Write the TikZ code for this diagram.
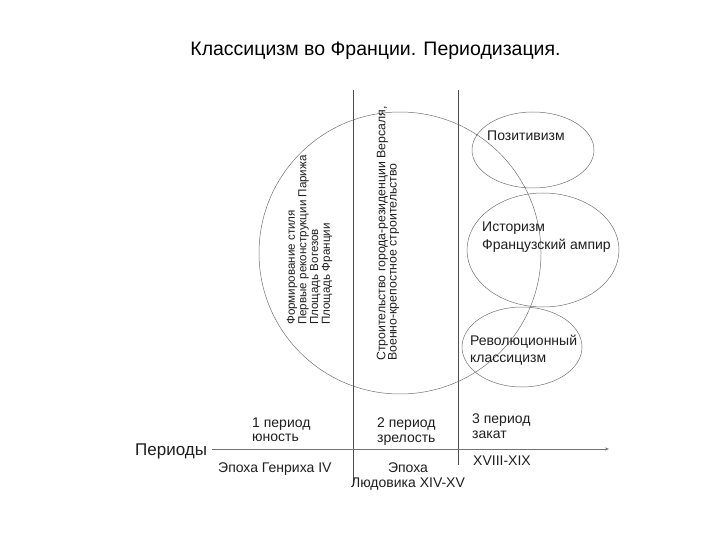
\documentclass[tikz,border=0pt]{standalone}
\usepackage{fontspec}
\setmainfont{Liberation Sans}
\usetikzlibrary{shapes.geometric,arrows.meta}
\begin{document}
\begin{tikzpicture}[x=1pt,y=-1pt,
  lbl/.style={inner sep=0, anchor=base west, text=black!88, font=\fontsize{14}{16}\selectfont},
  clbl/.style={lbl, anchor=base},
  rot/.style={inner sep=0, anchor=west, rotate=90, align=left, text=black!88},
  ell/.style={draw=black!55, line width=0.5pt, ellipse, inner sep=0},
  vline/.style={draw=black!70, line width=0.6pt},
  axis/.style={draw=black!55, line width=0.6pt, -{Stealth[length=4pt,width=3pt]}}]
\useasboundingbox[fill=white] (0,0) rectangle (720,540);

% title
\node[inner sep=0, anchor=base, font=\fontsize{19.5}{22}\selectfont] (title) at (375.5,56) {Классицизм во Франции. Периодизация.};

% big circle and ellipses
\node[draw=black!55, line width=0.5pt, circle, minimum size=282pt, inner sep=0] (big) at (400,253) {};
\node[ell, minimum width=122pt, minimum height=76pt] (e1) at (533,150) {};
\node[ell, minimum width=152pt, minimum height=114pt] (e2) at (543,250) {};
\node[ell, minimum width=120pt, minimum height=80pt] (e3) at (522,347) {};

% vertical period borders
\coordinate (v1t) at (353,90);
\coordinate (v1b) at (353,486);
\coordinate (v2t) at (458,90);
\coordinate (v2b) at (458,465);
\draw[vline] (v1t) -- (v1b);
\draw[vline] (v2t) -- (v2b);

% axis
\coordinate (ax0) at (212,449);
\coordinate (ax1) at (609,449);
\draw[axis] (ax0) -- (ax1);

% rotated texts
\node[rot, font=\fontsize{11.6}{11.7}\selectfont] (r1) at (309.5,325)
  {Формирование стиля\\Первые реконструкции Парижа\\Площадь Вогезов\\Площадь Франции};
\node[rot, font=\fontsize{12.3}{11.2}\selectfont] (r2) at (388,361)
  {Строительство города-резиденции Версаля,\\Военно-крепостное строительство};

% ellipse texts
\node[lbl] (p1) at (487,141) {Позитивизм};
\node[lbl] (p2a) at (482,232) {Историзм};
\node[lbl] (p2b) at (482,249) {Французский ампир};
\node[lbl] (p3a) at (470,345) {Революционный};
\node[lbl] (p3b) at (470,362) {классицизм};

% period labels
\node[lbl] (a1) at (252,427) {1 период};
\node[lbl] (a2) at (252,441) {юность};
\node[lbl] (b1) at (377,427) {2 период};
\node[lbl] (b2) at (377,442) {зрелость};
\node[lbl] (c1) at (472,423) {3 период};
\node[lbl] (c2) at (472,438) {закат};
\node[lbl, font=\fontsize{17}{19}\selectfont] (per) at (135,455) {Периоды};

% epochs
\node[lbl] (d1) at (218,472) {Эпоха Генриха IV};
\node[clbl] (d2) at (408,472) {Эпоха};
\node[clbl] (d3) at (408,487) {Людовика XIV-XV};
\node[lbl] (d4) at (473,465) {XVIII-XIX};
\end{tikzpicture}
\end{document}
